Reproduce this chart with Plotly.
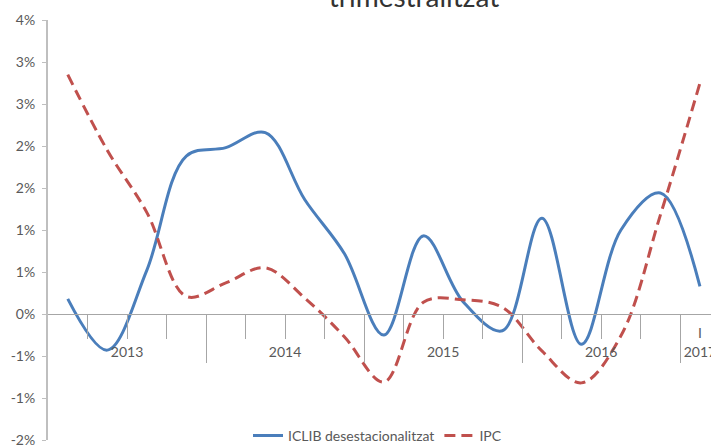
import plotly.graph_objects as go

# quarterly series, values in %
years = [2013] * 4 + [2014] * 4 + [2015] * 4 + [2016] * 4 + [2017]
quarters = ["I", "II", "III", "IV"] * 4 + ["I"]
quarter_labels = [""] * 16 + ["I"]
iclib = [0.18, -0.43, 0.52, 1.88, 1.98, 2.16, 1.36, 0.72, -0.25, 0.93, 0.15, -0.20, 1.14, -0.36, 1.00, 1.44, 0.33]
ipc = [2.85, 1.95, 1.21, 0.21, 0.37, 0.55, 0.19, -0.27, -0.81, 0.14, 0.17, 0.08, -0.44, -0.82, -0.26, 1.18, 2.75]
y_ticks = [-1.5, -1.0, -0.5, 0.0, 0.5, 1.0, 1.5, 2.0, 2.5, 3.0, 3.5]
y_tick_labels = ["-2%", "-1%", "-1%", "0%", "1%", "1%", "2%", "2%", "3%", "3%", "4%"]

cats = [f"{y} {q}" for y, q in zip(years, quarters)]
year_names = sorted(set(years))
year_centers = []
for yr in year_names:
    idx = [i for i, y in enumerate(years) if y == yr]
    year_centers.append(sum(idx) / len(idx))
boundaries = [i + 0.5 for i in range(len(cats) - 1)]
year_bounds = [i + 0.5 for i in range(len(cats) - 1) if years[i] != years[i + 1]]

FONT = "Lato"
GREY = "#595959"
AXIS = "#bfbfbf"
TICK = "#a6a6a6"
x_range = [-0.5, 16.28]
zero_pos = (0 - y_ticks[0]) / (y_ticks[-1] - y_ticks[0])

fig = go.Figure()
fig.add_trace(go.Scatter(
    x=cats, y=iclib, mode="lines", name="ICLIB desestacionalitzat",
    line=dict(color="#4a7ebb", width=3, shape="spline", smoothing=1),
))
fig.add_trace(go.Scatter(
    x=cats, y=ipc, mode="lines", name="IPC",
    line=dict(color="#c0504d", width=3, shape="spline", smoothing=1, dash="11px,6px"),
))

# invisible helper traces so the overlaid tick axes get drawn
for ax, xs in (("x2", boundaries), ("x3", year_bounds), ("x4", year_centers)):
    fig.add_trace(go.Scatter(x=xs, y=[0] * len(xs), xaxis=ax, yaxis="y", mode="markers",
                             marker=dict(size=1, opacity=0), hoverinfo="skip",
                             showlegend=False))

common = dict(anchor="free", position=zero_pos, range=x_range, showgrid=False,
              zeroline=False, automargin=False, ticklabeloverflow="allow")

fig.update_layout(
    width=711, height=445,
    template="none",
    paper_bgcolor="white", plot_bgcolor="white",
    margin=dict(l=48, r=0, t=20, b=5, autoexpand=False),
    font=dict(family=FONT, size=14, color=GREY),
    title=dict(text="trimestralitzat", x=414 / 711, xanchor="center", xref="container",
               y=1 - 7 / 445, yanchor="bottom", yref="container",
               font=dict(family=FONT, size=28, color="#333333", weight=400)),
    xaxis=dict(type="category", tickvals=cats, ticktext=quarter_labels,
               ticks="outside", ticklen=6, tickcolor="rgba(0,0,0,0)",
               showline=True, linecolor=TICK, linewidth=1, **common),
    xaxis2=dict(overlaying="x", type="linear", tickvals=boundaries, ticks="outside",
                ticklen=24, tickcolor=TICK, tickwidth=1, showticklabels=False,
                showline=False, **common),
    xaxis3=dict(overlaying="x", type="linear", tickvals=year_bounds, ticks="outside",
                ticklen=48, tickcolor=TICK, tickwidth=1, showticklabels=False,
                showline=False, **common),
    xaxis4=dict(overlaying="x", type="linear", tickvals=year_centers,
                ticktext=[str(y) for y in year_names], ticks="outside", ticklen=25,
                tickcolor="rgba(0,0,0,0)", showline=False, **common),
    yaxis=dict(range=[y_ticks[0], y_ticks[-1]], tickvals=y_ticks, ticktext=y_tick_labels,
               ticks="outside", ticklen=4, tickcolor=AXIS, showline=True, linecolor=AXIS,
               linewidth=2, showgrid=False, zeroline=False, automargin=False,
               ticklabelstandoff=4, ticklabeloverflow="allow"),
    legend=dict(orientation="h", x=(248 - 48) / 663, y=0.01, xanchor="left",
                yanchor="middle", bgcolor="rgba(0,0,0,0)", font=dict(size=14, color=GREY)),
    showlegend=True,
)

fig.write_html("out.html", config={"displayModeBar": False},
               post_script="document.body.style.margin = '0';")
